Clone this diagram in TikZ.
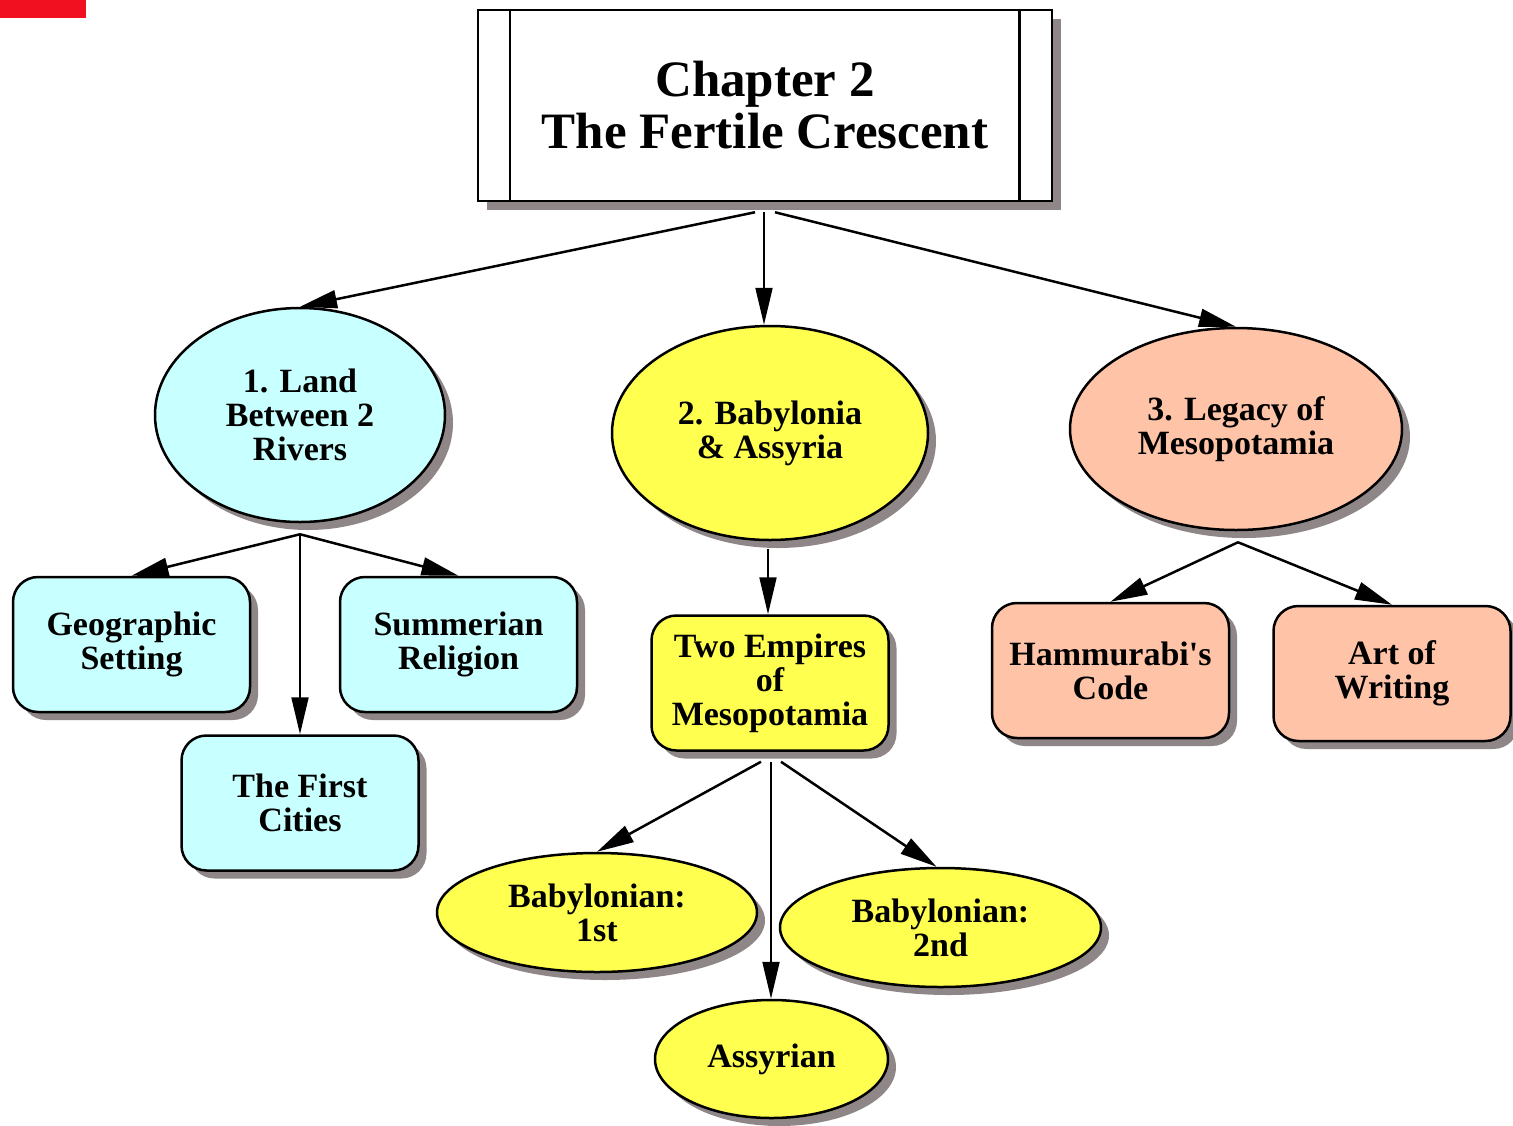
\documentclass[tikz,border=0pt]{standalone}
\usepackage{fontspec}
\setmainfont{Liberation Serif}
\usetikzlibrary{arrows.meta,shapes.geometric,shadows}

\definecolor{cyanfill}{HTML}{C8FFFF}
\definecolor{yellowfill}{HTML}{FFFF50}
\definecolor{peachfill}{HTML}{FFC4A8}
\definecolor{shadowgray}{HTML}{8F8787}
\definecolor{markred}{HTML}{F01020}

\tikzset{
  shade8/.style={drop shadow={shadow xshift=8pt, shadow yshift=-8pt, fill=shadowgray, opacity=1}},
  titlebox/.style={draw=black, line width=2.5pt, fill=white, inner sep=0pt,
    minimum width=574pt, minimum height=191pt, align=center,
    font=\bfseries\fontsize{51}{52}\selectfont,
    drop shadow={shadow xshift=9pt, shadow yshift=-9pt, fill=shadowgray, opacity=1}},
  box/.style={draw=black, line width=2.5pt, rounded corners=25pt, inner sep=0pt,
    minimum width=237pt, minimum height=135pt, align=center,
    font=\bfseries\fontsize{34}{34}\selectfont, shade8},
  oval/.style={ellipse, draw=black, line width=2.5pt, inner sep=0pt, align=center,
    font=\bfseries\fontsize{34}{34}\selectfont, shade8},
  link/.style={line width=2.5pt, -{Triangle[length=37pt,width=18pt]}},
  vlink/.style={line width=2pt, -{Triangle[length=37pt,width=17pt]}},
}

\begin{document}
\begin{tikzpicture}[x=1pt,y=-1pt]
  \fill[white] (0,0) rectangle (1513,1125);
  \useasboundingbox (0,0) rectangle (1513,1125);
  \fill[markred] (0,0) rectangle (86,18);

  % title block with its two inner rules
  \node[titlebox] (title) at (765,105.5) {Chapter 2\\The Fertile Crescent};
  \draw[line width=2.5pt] ([xshift=33pt]title.north west) -- ([xshift=33pt]title.south west);
  \draw[line width=2.5pt] ([xshift=-34pt]title.north east) -- ([xshift=-34pt]title.south east);

  % section ovals
  \node[oval, fill=cyanfill, minimum width=290pt, minimum height=214pt] (land) at (300,415) {1. Land\\Between 2\\Rivers};
  \node[oval, fill=yellowfill, minimum width=316pt, minimum height=214pt] (baby) at (770,433) {2. Babylonia\\\& Assyria};
  \node[oval, fill=peachfill, minimum width=332pt, minimum height=202pt] (legacy) at (1236,429) {3. Legacy of\\Mesopotamia};

  % topic boxes
  \node[box, fill=cyanfill] (geo) at (131.5,644.5) {Geographic\\Setting};
  \node[box, fill=cyanfill] (sum) at (458.5,644.5) {Summerian\\Religion};
  \node[box, fill=cyanfill] (cities) at (300,803) {The First\\Cities};
  \node[box, fill=yellowfill] (two) at (770,683) {Two Empires\\of\\Mesopotamia};
  \node[box, fill=peachfill] (ham) at (1110.5,670.5) {Hammurabi\textquotesingle s\\Code};
  \node[box, fill=peachfill] (art) at (1392,673.5) {Art of\\Writing};

  % empire ovals
  \node[oval, fill=yellowfill, minimum width=320pt, minimum height=119pt] (bab1) at (597,912.5) {Babylonian:\\1st};
  \node[oval, fill=yellowfill, minimum width=321pt, minimum height=119pt] (bab2) at (940.5,927.5) {Babylonian:\\2nd};
  \node[oval, fill=yellowfill, minimum width=233pt, minimum height=118pt] (assy) at (771.5,1059) {Assyrian};

  % branching points just below each parent
  \coordinate (titleout) at ([xshift=-1pt,yshift=-10pt]title.south);
  \coordinate (titleoutL) at ([xshift=-10pt,yshift=-10pt]title.south);
  \coordinate (titleoutR) at ([xshift=10pt,yshift=-10pt]title.south);
  \coordinate (landout) at ([yshift=-11pt]land.south);
  \coordinate (babyout) at ([xshift=-2pt,yshift=-8pt]baby.south);
  \coordinate (legacyout) at ([xshift=2pt,yshift=-11pt]legacy.south);
  \coordinate (twoout) at ([xshift=1pt,yshift=-10pt]two.south);
  \coordinate (twooutL) at ([xshift=-9pt,yshift=-10pt]two.south);
  \coordinate (twooutR) at ([xshift=11pt,yshift=-10pt]two.south);

  % connectors
  \draw[link] (titleoutL) -- (land.north);
  \draw[vlink] (titleout) -- (titleout |- baby.north);
  \draw[link] (titleoutR) -- (legacy.north);
  \draw[link] (landout) -- (geo.north);
  \draw[link] (landout) -- (sum.north);
  \draw[vlink] (landout) -- (landout |- cities.north);
  \draw[vlink] (babyout) -- (babyout |- two.north);
  \draw[link] (legacyout) -- (ham.north);
  \draw[link] (legacyout) -- (art.north);
  \draw[link] (twooutL) -- (bab1.north);
  \draw[link] (twooutR) -- ([xshift=-4pt]bab2.north);
  \draw[vlink] (twoout) -- (twoout |- assy.north);
\end{tikzpicture}
\end{document}
